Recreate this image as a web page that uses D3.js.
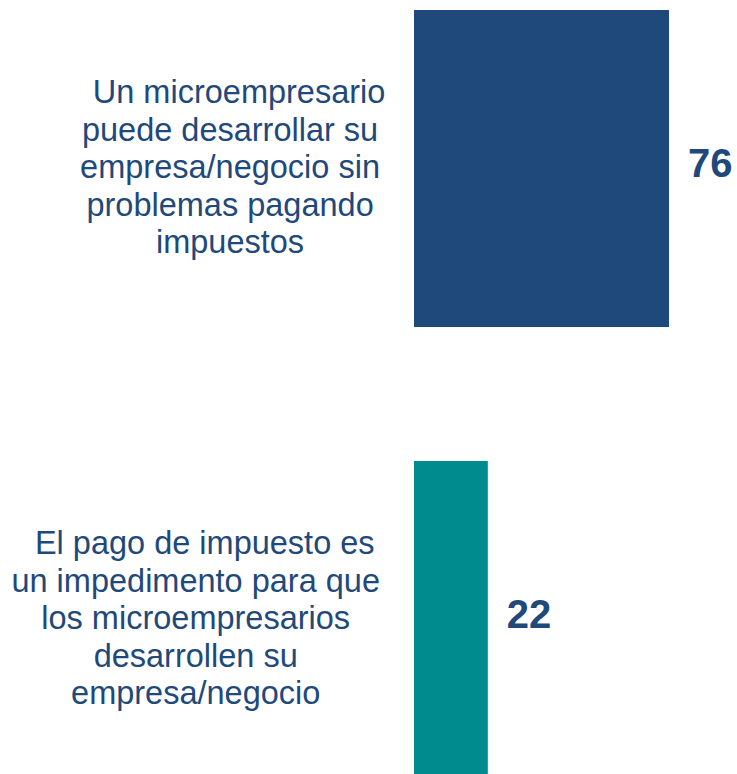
<!DOCTYPE html>
<html>
<head>
<meta charset="utf-8">
<script src="https://cdn.jsdelivr.net/npm/d3@7"></script>
<style>
  body { margin: 0; background: #fff; }
  svg { display: block; }
</style>
</head>
<body>
<div id="chart"></div>
<script>
// Chart data
const categories = [
  ["  Un microempresario", "puede desarrollar su", "empresa/negocio sin", "problemas pagando", "impuestos"],
  ["  El pago de impuesto es", "un impedimento para que", "los microempresarios", "desarrollen su", "empresa/negocio"]
];
const values = [76, 22];
const barColors = ["#1F497A", "#008B8F"];

const width = 737, height = 774;
const textColor = "#1F497A";

const svg = d3.select("#chart")
  .append("svg")
  .attr("width", width)
  .attr("height", height);

// scales
const x = d3.scaleLinear()
  .domain([0, 76])
  .range([414, 669]);

const y = d3.scaleBand()
  .domain(d3.range(values.length))
  .range([10, 778])
  .paddingInner(0.297);

// bars
svg.selectAll("rect.bar")
  .data(values)
  .join("rect")
  .attr("class", "bar")
  .attr("x", x(0))
  .attr("y", (d, i) => y(i))
  .attr("width", d => x(d) - x(0))
  .attr("height", y.bandwidth())
  .attr("fill", (d, i) => barColors[i]);

// value labels
svg.selectAll("text.val")
  .data(values)
  .join("text")
  .attr("class", "val")
  .attr("x", d => x(d) + 19)
  .attr("y", (d, i) => y(i) + y.bandwidth() / 2 - 6)
  .attr("dy", "0.36em")
  .attr("font-family", "Liberation Sans, Arial, sans-serif")
  .attr("font-weight", "bold")
  .attr("font-size", "40px")
  .attr("fill", textColor)
  .text(d => d);

// category labels: lines centred inside a block whose right edge is fixed
const lineH = 37.5;
const rightEdge = 380;

categories.forEach((lines, i) => {
  const g = svg.append("g");
  const t = g.append("text")
    .attr("font-family", "Liberation Sans, Arial, sans-serif")
    .attr("font-size", "32.5px")
    .attr("fill", textColor)
    .attr("text-anchor", "middle")
    .style("white-space", "pre");

  const cy = y(i) + y.bandwidth() / 2 - 2;
  const top = cy - (lines.length - 1) * lineH / 2;
  const spans = t.selectAll("tspan")
    .data(lines)
    .join("tspan")
    .attr("x", 0)
    .attr("y", (d, j) => top + j * lineH)
    .attr("dy", "0.36em")
    .text(d => d);

  let maxW = 0;
  spans.each(function(d) {
    if (d.startsWith(" ")) return;
    maxW = Math.max(maxW, this.getComputedTextLength());
  });
  g.attr("transform", `translate(${rightEdge - maxW / 2}, 0)`);
});
</script>
</body>
</html>
